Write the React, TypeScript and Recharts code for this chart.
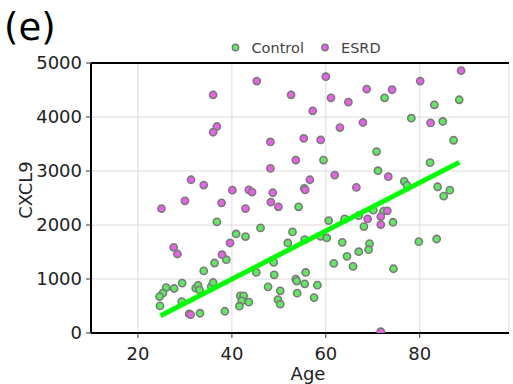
import React from 'react';
import { ScatterChart, Scatter, XAxis, YAxis, CartesianGrid, ReferenceLine } from 'recharts';

const controlAge = [36.8, 38.8, 36.3, 34.0, 29.4, 26.0, 27.7, 25.3, 24.6, 24.7, 29.3, 32.3, 32.8, 33.1, 35.6, 36.0, 30.9, 33.2, 38.5,
  54.2, 40.9, 42.9, 46.1, 52.9, 51.9, 55.5, 58.9, 60.2, 60.6, 64.0, 67.0, 68.1, 63.5, 69.3, 69.1, 67.0, 64.5, 61.7, 65.8,
  48.9, 45.2, 49.0, 55.7, 53.6, 53.8, 55.5, 58.2, 47.7, 50.3, 53.9, 57.5, 49.8, 50.3, 41.8, 42.5, 42.1, 43.6, 41.6,
  59.5, 55.4,
  72.5, 88.4, 83.1, 78.2, 84.9, 87.2, 70.8, 82.2, 71.1, 76.7, 77.3, 83.8, 86.4, 85.1,
  70.1, 72.3, 74.3, 79.8, 83.6, 74.4];
const controlValue = [2058, 1357, 1296, 1150, 924, 842, 824, 738, 675, 502, 582, 831, 880, 800, 861, 935, 353, 366, 403,
  2336, 1834, 1785, 1946, 1872, 1667, 1729, 1790, 1760, 2082, 2113, 2175, 1971, 1679, 1655, 1543, 1506, 1419, 1289, 1233,
  1307, 1121, 1078, 1121, 998, 961, 911, 886, 855, 781, 738, 656, 619, 533, 688, 688, 595, 571, 496,
  3203, 2680,
  4356, 4319, 4226, 3978, 3917, 3569, 3359, 3155, 3006, 2807, 2733, 2708, 2645, 2534,
  2274, 2255, 2051, 1692, 1741, 1190];

const esrdAge = [36.0, 36.8, 36.0, 31.3, 34.0, 30.0, 25.0, 37.8, 27.6, 28.4, 39.6, 37.9, 31.2,
  45.3, 60.0, 52.6, 61.1, 68.7, 64.8, 57.2, 63.0, 67.9, 48.2, 55.3, 58.9, 53.6, 48.2, 56.6, 61.9, 66.5,
  40.1, 43.6, 44.3, 48.7, 55.6, 48.3, 49.9, 42.9, 68.9,
  88.8, 80.1, 74.1, 82.3, 73.3, 73.1, 71.7, 71.7, 71.7];
const esrdValue = [4411, 3824, 3718, 2838, 2739, 2448, 2305, 2411, 1586, 1463, 1667, 1450, 340,
  4666, 4746, 4411, 4356, 4517, 4276, 4114, 3805, 3898, 3538, 3606, 3575, 3203, 3049, 2838, 2924, 2696,
  2645, 2652, 2610, 2597, 2650, 2422, 2336, 2305, 2113,
  4858, 4666, 4505, 3891, 2894, 2262, 2156, 2008, 24];

const trendAge = [24.8, 88.4];
const trendValue = [320, 3160];

const xTicks = [20, 40, 60, 80];
const yTicks = [0, 1000, 2000, 3000, 4000, 5000];
const seriesNames = ['Control', 'ESRD'];

const controlData = controlAge.map((a, i) => ({ age: a, v: controlValue[i] }));
const esrdData = esrdAge.map((a, i) => ({ age: a, v: esrdValue[i] }));
const trendData = trendAge.map((a, i) => ({ age: a, v: trendValue[i] }));

const GREEN = '#5eea5e';
const MAGENTA = '#ec5eec';
const FONT = '"DejaVu Sans", Verdana, sans-serif';

const dot = (fill: string) => (props: any) => (
  <circle cx={props.cx} cy={props.cy} r={3.6} fill={fill} stroke="#7a7a7a" strokeWidth={1.6} />
);

export default function App() {
  return (
    <div style={{ position: 'absolute', left: 0, top: 0, width: 513, height: 384, background: '#fff' }}>
      <ScatterChart width={513} height={384} margin={{ top: 63, right: 4, bottom: 0, left: 0 }}>
        <CartesianGrid stroke="#dcdcdc" strokeWidth={1} />
        <XAxis
          type="number"
          dataKey="age"
          domain={[10, 99]}
          ticks={xTicks}
          allowDataOverflow
          height={51}
          axisLine={{ stroke: '#000', strokeWidth: 2 }}
          tickLine={{ stroke: '#333' }}
          tickSize={5}
          tickMargin={9}
          tick={{ fill: '#222', fontSize: 18, fontFamily: FONT }}
        />
        <YAxis
          type="number"
          dataKey="v"
          domain={[0, 5000]}
          ticks={yTicks}
          allowDataOverflow
          width={91}
          axisLine={{ stroke: '#000', strokeWidth: 2 }}
          tickLine={{ stroke: '#333' }}
          tickSize={5}
          tickMargin={4}
          tick={{ fill: '#222', fontSize: 18, fontFamily: FONT }}
        />
        <ReferenceLine y={5000} stroke="#000" strokeWidth={2} />
        <Scatter name={seriesNames[0]} data={controlData} shape={dot(GREEN)} isAnimationActive={false} />
        <Scatter name={seriesNames[1]} data={esrdData} shape={dot(MAGENTA)} isAnimationActive={false} />
        <Scatter
          name="trend"
          data={trendData}
          line={{ stroke: '#00ff00', strokeWidth: 5 }}
          shape={() => <g />}
          isAnimationActive={false}
        />
      </ScatterChart>
      <svg width={513} height={384} style={{ position: 'absolute', left: 0, top: 0, pointerEvents: 'none' }}>
        <text x={4} y={39.5} fontSize={37} fontFamily={FONT} fill="#000">(e)</text>
        <circle cx={235.5} cy={47.5} r={3.2} fill={GREEN} stroke="#7a7a7a" strokeWidth={1.4} />
        <text x={251.5} y={52.5} fontSize={14.5} fontFamily={FONT} fill="#444">{seriesNames[0]}</text>
        <circle cx={325} cy={47.5} r={3.2} fill={MAGENTA} stroke="#7a7a7a" strokeWidth={1.4} />
        <text x={341} y={52.5} fontSize={14.5} fontFamily={FONT} fill="#444">{seriesNames[1]}</text>
        <text x={308} y={380} fontSize={18} fontFamily={FONT} fill="#222" textAnchor="middle">Age</text>
        <text x={31.5} y={190} fontSize={18} fontFamily={FONT} fill="#222" textAnchor="middle" transform="rotate(-90, 31.5, 190)">CXCL9</text>
      </svg>
    </div>
  );
}
